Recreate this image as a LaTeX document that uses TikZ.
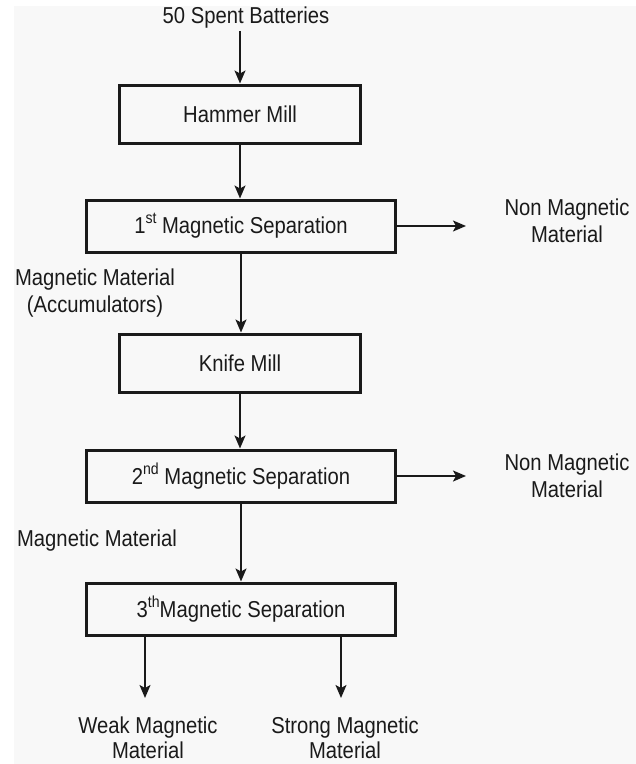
\documentclass[tikz,border=0pt]{standalone}
\usepackage{fontspec}
\setmainfont{Liberation Sans}
\usetikzlibrary{arrows.meta}
\definecolor{bg}{HTML}{F8F8F8}
\definecolor{ink}{HTML}{1A1A1A}
\newcommand{\tx}[1]{\scalebox{0.88}[1]{#1}}
\newcommand{\sups}[1]{\raisebox{0.45em}{\fontsize{16}{16}\selectfont #1}}
\begin{document}
\begin{tikzpicture}[x=1pt,y=-1pt,
  every node/.style={font=\fontsize{23}{27}\selectfont, text=ink, inner sep=0pt},
  procbox/.style={draw=ink, line width=3pt, fill=bg, minimum height=55pt},
  narrowbox/.style={procbox, minimum width=241pt, minimum height=58pt},
  widebox/.style={procbox, minimum width=309pt, minimum height=52pt},
  lbl/.style={align=center},
  botlbl/.style={align=center, font=\fontsize{23}{25.5}\selectfont},
  arr/.style={draw=ink, line width=1.7pt, -{Stealth[length=13pt,width=11pt,inset=3pt]}}
]
\useasboundingbox (0,0) rectangle (636,764);
\fill[white] (0,0) rectangle (636,764);
\fill[bg] (14,6) rectangle (636,764);

\node (src) at (246,18) {\tx{50 Spent Batteries}};
\node[narrowbox] (hm) at (240,114) {\tx{Hammer Mill}};
\node[widebox] (ms1) at (241,226) {\tx{1\sups{st} Magnetic Separation}};
\node[lbl] (nm1) at (567,221) {\tx{Non Magnetic}\\\tx{Material}};
\node[lbl] (mm1) at (95,293) {\tx{Magnetic Material}\\\tx{(Accumulators)}};
\node[narrowbox] (km) at (240,363) {\tx{Knife Mill}};
\node[widebox] (ms2) at (241,476) {\tx{2\sups{nd} Magnetic Separation}};
\node[lbl] (nm2) at (567,476) {\tx{Non Magnetic}\\\tx{Material}};
\node (mm2) at (97,541) {\tx{Magnetic Material}};
\node[widebox] (ms3) at (241,609) {\tx{3\sups{th}Magnetic Separation}};
\node[botlbl] (weak) at (148,738) {\tx{Weak Magnetic}\\\tx{Material}};
\node[botlbl] (strong) at (345,738) {\tx{Strong Magnetic}\\\tx{Material}};

\coordinate (e1) at (466,226);
\coordinate (e2) at (466,476);
\coordinate (w) at (145,698);
\coordinate (s) at (341,698);

\draw[arr] (hm.north |- src.south) ++(0,2) -- (hm.north);
\draw[arr] (hm.south) -- (hm.south |- ms1.north);
\draw[arr] (ms1.south) -- (ms1.south |- km.north);
\draw[arr] (km.south) -- (km.south |- ms2.north);
\draw[arr] (ms2.south) -- (ms3.north);
\draw[arr] (ms1.east) -- (e1);
\draw[arr] (ms2.east) -- (e2);
\draw[arr] (ms3.south -| w) -- (w);
\draw[arr] (ms3.south -| s) -- (s);
\end{tikzpicture}
\end{document}
